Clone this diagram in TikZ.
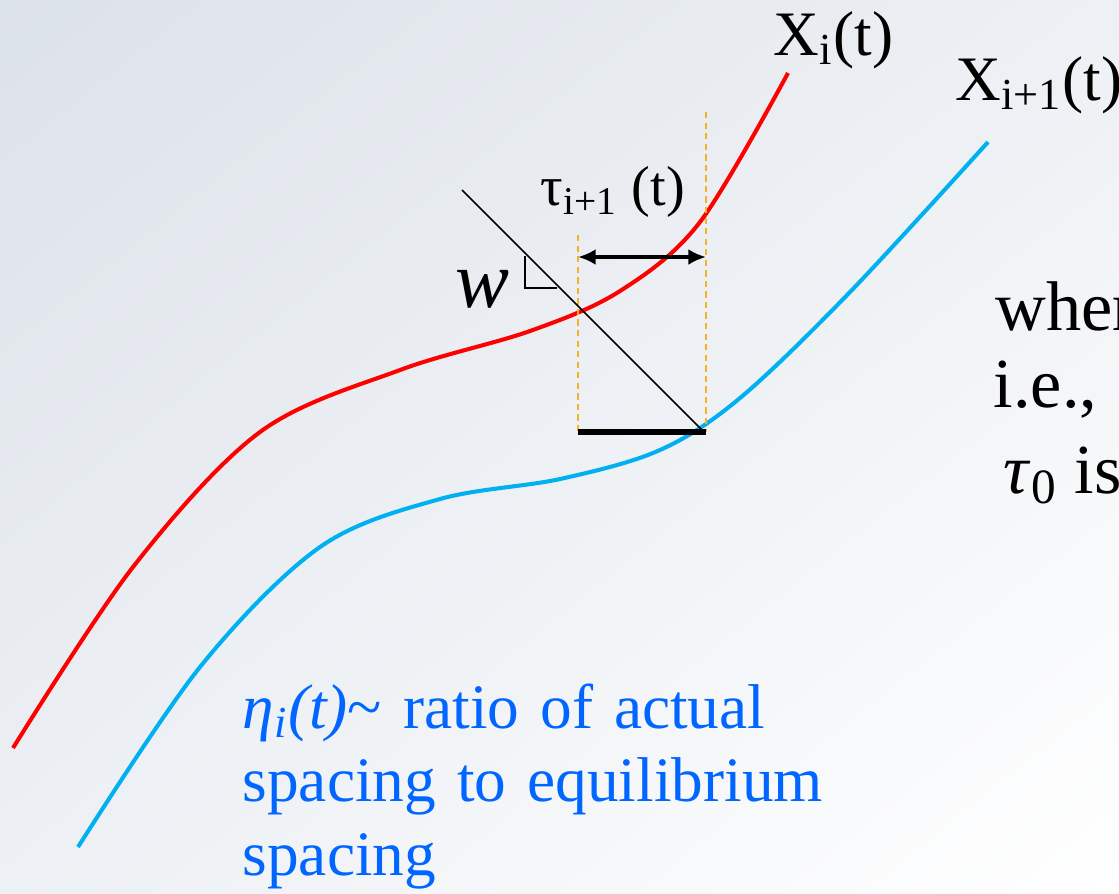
\documentclass[tikz,border=0pt]{standalone}
\usepackage{fontspec}
\setmainfont{Liberation Serif}
\usepackage{xcolor}
\usetikzlibrary{arrows.meta,positioning,calc,shadings}

\definecolor{bgdark}{HTML}{DCE2E9}
\definecolor{bgmid}{HTML}{EDF0F4}
\definecolor{lead}{HTML}{FF0000}
\definecolor{follow}{HTML}{00B0F0}
\definecolor{note}{HTML}{0066FF}
\definecolor{guideorange}{HTML}{F5B324}

\begin{document}
\begin{tikzpicture}[
  x=0.01cm, y=-0.01cm,
  >=Latex,
  traj/.style={line width=1.15pt, smooth, tension=0.55},
  guide/.style={guideorange, line width=0.45pt, dash pattern=on 1.8pt off 1.2pt},
  arr/.style={<->, line width=1pt, >={Latex[length=5pt,width=4.5pt]}},
  lbl/.style={anchor=base west, inner sep=0pt, font=\fontsize{18}{21}\selectfont},
]

%------------------- Background -------------------
\useasboundingbox (0,0) rectangle (1119,893);
\clip (0,0) rectangle (1119,893);
\shade[upper left=bgdark, upper right=bgmid, lower left=bgmid, lower right=white]
  (0,0) rectangle (1119,893);

%------------------- Trajectories -------------------
\draw[traj, lead] plot coordinates {(13,748) (133,567) (260,432) (400,370) (530,331)
  (620,291) (700,222) (788,73)};
\draw[traj, follow] plot coordinates {(78,847) (200,667) (320,547) (440,499) (560,479)
  (660,450) (740,398) (850,292) (988,142)};

%------------------- Headway construction -------------------
\coordinate (footL) at (578,432);
\coordinate (footR) at (706,432);
\coordinate (topL) at (578,235);
\coordinate (topR) at (706,112);
\coordinate (gapL) at (578,257);
\coordinate (gapR) at (706,257);
\coordinate (wave) at (462,190);
\coordinate (waveend) at (704,432);

\draw[guide] (topL) -- (footL);
\draw[guide] (topR) -- (footR);
\draw[line width=1.5pt] (footL) -- (footR);
\draw[line width=0.45pt] (wave) -- (waveend);
\draw[line width=0.8pt] (525,256) -- (525,288) -- (557,288);   % right angle
\draw[arr] (gapL) -- (gapR);

%------------------- Labels -------------------
\node (xi) [lbl] at (773,55) {X\textsubscript{i}(t)};
\node (xinext) [lbl] at (955,100) {X\textsubscript{i+1}(t)};
\node (tau) [lbl, font=\fontsize{16}{19}\selectfont] at (540,205) {τ\textsubscript{i+1} (t)};
\node (wlbl) [lbl, font=\fontsize{23}{26}\selectfont\itshape] at (455,307) {w};

\node (wher) [lbl, font=\fontsize{20}{24}\selectfont] at (995,330) {wher};
\node (ie) [lbl, font=\fontsize{20}{24}\selectfont] at (993,407) {i.e.,};
\node (tau0) [lbl, font=\fontsize{20}{24}\selectfont] at (1003,493) {\textit{τ}\textsubscript{0} is};

\node (eta) [lbl, text=note, text width=7cm, align=left] at (242,728)
  {\textit{η\textsubscript{i}(t)}\textasciitilde{} ratio of actual\\spacing to equilibrium\\spacing};

\end{tikzpicture}
\end{document}
